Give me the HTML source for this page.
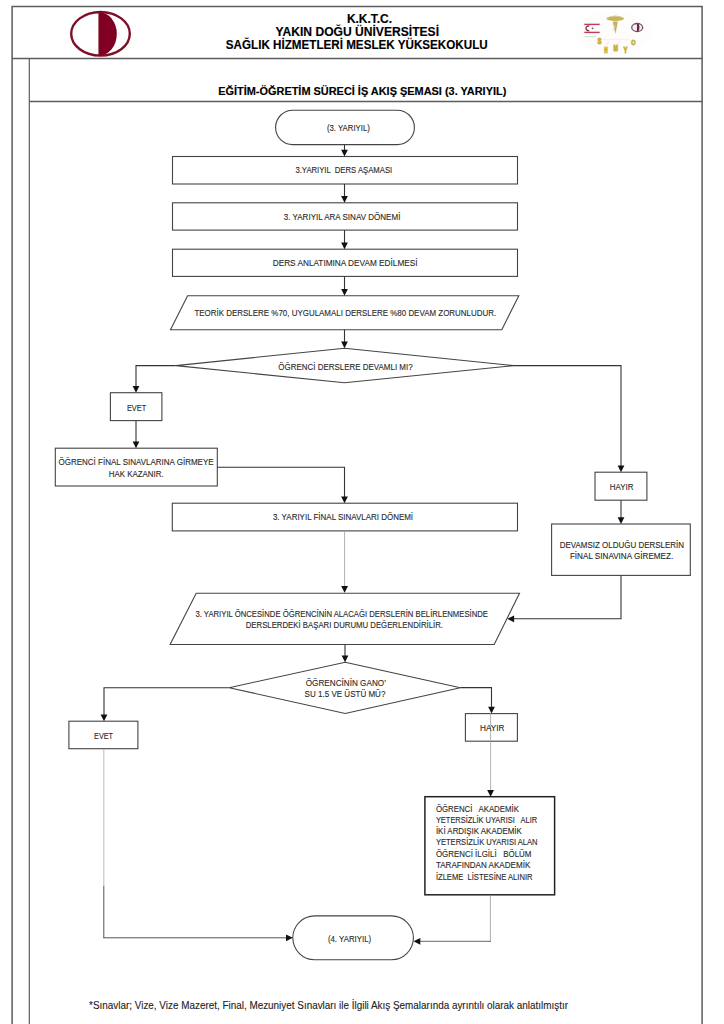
<!DOCTYPE html>
<html><head><meta charset="utf-8">
<style>
html,body{margin:0;padding:0;background:#fff;width:724px;height:1024px;overflow:hidden}
svg{display:block}
text{font-family:"Liberation Sans",sans-serif;fill:#2a2a2a;white-space:pre;stroke:#2a2a2a;stroke-width:0.12}
.b{font-weight:bold;fill:#000;stroke:#000;stroke-width:0.15}
.s{fill:none;stroke:#444;stroke-width:1.1}
.g{fill:none;stroke:#707070;stroke-width:0.9}
.k{fill:none;stroke:#333;stroke-width:1.1}
.h{fill:#111}
</style></head>
<body>
<svg width="724" height="1024" viewBox="0 0 724 1024">
<!-- page frame -->
<g fill="none" stroke="#5c5c5c" stroke-width="1.5">
<path d="M12.1 1024V6.6H702.1V1024"/>
<path d="M12.1 58.4H702.1"/>
<path d="M29.3 58.4V1024" stroke-width="1.2"/>
<path d="M29.3 101.5H702.1" stroke-width="1.3"/>
</g>
<!-- left logo -->
<g>
<ellipse cx="100.5" cy="33.8" rx="29.3" ry="21.8" fill="none" stroke="#7d0f26" stroke-width="2.4"/>
<path d="M99 12.2A17.8 21.7 0 0 1 99 55.6Z" fill="#7f0022"/>
<path d="M99 12V56" stroke="#7d0f26" stroke-width="1.2"/>
</g>
<!-- right logo -->
<g>
<ellipse cx="613.5" cy="33" rx="38" ry="21.5" fill="#fefdfb"/>
<rect x="584.3" y="23.7" width="15.4" height="1.4" fill="#c23a58"/>
<rect x="584.3" y="31.7" width="15.4" height="1.4" fill="#c23a58"/>
<path d="M589.2 26.1A2.5 2.3 0 1 0 589.2 30.5" fill="none" stroke="#7a3040" stroke-width="1.3"/>
<circle cx="592.6" cy="28.3" r="0.9" fill="#6a4a4a"/>
<path d="M584.5 36.5H596" stroke="#c8dcd0" stroke-width="0.8"/>
<ellipse cx="615.2" cy="18.6" rx="8.8" ry="2.4" fill="#c4b45a"/>
<path d="M609 17.2Q615.2 14.5 621.5 17.2" fill="none" stroke="#d2c88e" stroke-width="0.8"/>
<path d="M612.7 21.5H617.9L615.4 34Z" fill="#bfb070"/>
<path d="M611.5 24Q618.5 25.5 613 28.5Q611 30.5 617 32" fill="none" stroke="#e2dab8" stroke-width="0.6"/>
<ellipse cx="637.2" cy="27.5" rx="5.5" ry="4" fill="#fbe8f0" stroke="#6a5868" stroke-width="1.3"/>
<path d="M637 23.6A2.4 3.9 0 0 1 637 31.4Z" fill="#6e2040"/>
<g font-family="Liberation Sans" font-weight="bold">
<text x="597.6" y="44.3" font-size="8.4" textLength="3.9" lengthAdjust="spacingAndGlyphs" style="fill:#b39c2a;stroke:#c9b23a;stroke-width:0.9">S</text>
<text x="631.3" y="45.2" font-size="8" textLength="4.2" lengthAdjust="spacingAndGlyphs" style="fill:#b39c2a;stroke:#c9b23a;stroke-width:0.9">O</text>
<text x="604.3" y="52.5" font-size="8.4" textLength="3.3" lengthAdjust="spacingAndGlyphs" style="fill:#b39c2a;stroke:#c9b23a;stroke-width:0.9">H</text>
<text x="613.6" y="50.6" font-size="8.4" textLength="4.4" lengthAdjust="spacingAndGlyphs" style="fill:#b39c2a;stroke:#c9b23a;stroke-width:0.9">M</text>
<text x="623.6" y="52.5" font-size="8.4" textLength="3.9" lengthAdjust="spacingAndGlyphs" style="fill:#b39c2a;stroke:#c9b23a;stroke-width:0.9">Y</text>
</g>
<path d="M601 41Q604 38 607 40Q610 38 613 39.5Q616 38 619 40Q622 38 625 40Q628 38.5 631 41" fill="none" stroke="#eeead0" stroke-width="0.7"/>
<path d="M606 45L609 41M617 45L620 41" stroke="#efd4cc" stroke-width="0.6"/>
</g>
<!-- header text -->
<text class="b" x="346.9" y="22.5" font-size="12.7" textLength="45.2" lengthAdjust="spacingAndGlyphs">K.K.T.C.</text>
<text class="b" x="275.6" y="35.9" font-size="12.7" textLength="163.4" lengthAdjust="spacingAndGlyphs">YAKIN DOĞU ÜNİVERSİTESİ</text>
<text class="b" x="225.8" y="49" font-size="12.7" textLength="261.9" lengthAdjust="spacingAndGlyphs">SAĞLIK HİZMETLERİ MESLEK YÜKSEKOKULU</text>
<text class="b" x="218.2" y="95.2" font-size="11.1" textLength="288.1" lengthAdjust="spacingAndGlyphs">EĞİTİM-ÖĞRETİM SÜRECİ İŞ AKIŞ ŞEMASI (3. YARIYIL)</text>

<!-- shapes -->
<g class="s">
<rect x="275.6" y="110.2" width="138.8" height="34.4" rx="17.2"/>
<rect x="172.5" y="156.5" width="345" height="27.5"/>
<rect x="172.5" y="202.8" width="345" height="27.3"/>
<rect x="172.5" y="249.2" width="345" height="27.2"/>
<path d="M187.6 295.7H518.8L501.8 329.7H170.5Z"/>
<path d="M344.5 348.2L514 365.6L344.5 382.8L175.8 365.6Z"/>
<rect x="110.4" y="392.7" width="51.5" height="27.9"/>
<rect x="55.3" y="448.2" width="162" height="37.8"/>
<rect x="172.3" y="503.2" width="345.2" height="27.7"/>
<rect x="595" y="472.2" width="51.9" height="28"/>
<rect x="551.6" y="524" width="138.7" height="51.4"/>
<path d="M196.2 593.2H519.5L494.2 644.5H170.1Z"/>
<path d="M345.2 662.2L460.3 687.7L345.2 713.5L229.2 687.7Z"/>
<rect x="68.9" y="721.2" width="69" height="27.5"/>
<rect x="465.4" y="713.6" width="52" height="27.6"/>
<rect x="292.8" y="915.9" width="120.6" height="43.8" rx="21.9"/>
</g>
<rect x="424.9" y="796.7" width="129.7" height="98.1" fill="none" stroke="#222" stroke-width="1.5"/>

<!-- connectors -->
<g class="k">
<path d="M344.5 144.8V150"/>
<path d="M344.5 184V197"/>
<path d="M344.5 230.1V243"/>
<path d="M344.5 276.4V290"/>
<path d="M344.5 329.7V342"/>
<path d="M175.8 365.6H136V387"/>
<path d="M136 420.6V442"/>
<path d="M217.3 467.2H344.5V497"/>
<path d="M514 365.6H621V466"/>
<path d="M621 500.2V518"/>
<path d="M621 575.4V618.8H513"/>
<path d="M345 644.5V656"/>
<path d="M229.2 687.7H104V715"/>
<path d="M460.3 687.6H491.5V707"/>
</g>
<g fill="none">
<path d="M344.6 530.9V587" stroke="#9a9a9a" stroke-width="0.8"/>
<path d="M103.8 748.7V886" stroke="#a8a8a8" stroke-width="0.8"/><path d="M103.8 886V938" stroke="#555" stroke-width="1"/>
<path d="M103.3 937.8H287" stroke="#555" stroke-width="1"/>
<path d="M490.6 713.2V791" stroke="#a0a0a0" stroke-width="0.8"/>
<path d="M490.4 895.4V941.7" stroke="#999" stroke-width="0.8"/>
<path d="M490.8 941.3H420" stroke="#666" stroke-width="1"/>
</g>
<!-- arrowheads -->
<g class="h">
<path d="M341.1 149.7H347.9L344.5 156.5Z"/>
<path d="M341.1 196.0H347.9L344.5 202.8Z"/>
<path d="M341.1 242.4H347.9L344.5 249.2Z"/>
<path d="M341.1 288.9H347.9L344.5 295.7Z"/>
<path d="M341.1 341.4H347.9L344.5 348.2Z"/>
<path d="M132.6 385.9H139.4L136.0 392.7Z"/>
<path d="M132.6 441.4H139.4L136.0 448.2Z"/>
<path d="M341.1 496.4H347.9L344.5 503.2Z"/>
<path d="M341.2 586.0H348.0L344.6 592.8Z"/>
<path d="M617.6 465.4H624.4L621.0 472.2Z"/>
<path d="M617.6 517.2H624.4L621.0 524.0Z"/>
<path d="M514.1 615.4V622.2L507.3 618.8Z"/>
<path d="M341.6 655.4H348.4L345.0 662.2Z"/>
<path d="M100.6 714.4H107.4L104.0 721.2Z"/>
<path d="M488.1 706.8H494.9L491.5 713.6Z"/>
<path d="M487.2 789.9H494.0L490.6 796.7Z"/>
<path d="M286 934.4V941.2L292.8 937.8Z"/>
<path d="M420.3 937.9V944.7L413.5 941.3Z"/>
</g>

<!-- box texts -->
<g font-size="8.8" transform="translate(0 0.3)">
<text x="326.9" y="130.5" textLength="43" lengthAdjust="spacingAndGlyphs">(3. YARIYIL)</text>
<text x="295.4" y="173.2" textLength="96.8" lengthAdjust="spacingAndGlyphs">3.YARIYIL  DERS AŞAMASI</text>
<text x="283.7" y="219.6" textLength="116.7" lengthAdjust="spacingAndGlyphs">3. YARIYIL ARA SINAV DÖNEMİ</text>
<text x="272.7" y="266" textLength="144.9" lengthAdjust="spacingAndGlyphs">DERS ANLATIMINA DEVAM EDİLMESİ</text>
<text x="194.4" y="316.1" textLength="301.8" lengthAdjust="spacingAndGlyphs">TEORİK DERSLERE %70, UYGULAMALI DERSLERE %80 DEVAM ZORUNLUDUR.</text>
<text x="278.3" y="369.3" textLength="134.3" lengthAdjust="spacingAndGlyphs">ÖĞRENCİ DERSLERE DEVAMLI MI?</text>
<text x="126.9" y="410.3" textLength="19.3" lengthAdjust="spacingAndGlyphs">EVET</text>
<text x="58.5" y="464.8" textLength="155.1" lengthAdjust="spacingAndGlyphs">ÖĞRENCİ FİNAL SINAVLARINA GİRMEYE</text>
<text x="108.7" y="476.4" textLength="54.9" lengthAdjust="spacingAndGlyphs">HAK KAZANIR.</text>
<text x="272.9" y="520" textLength="140.2" lengthAdjust="spacingAndGlyphs">3. YARIYIL FİNAL SINAVLARI DÖNEMİ</text>
<text x="609.8" y="489.6" textLength="23.6" lengthAdjust="spacingAndGlyphs">HAYIR</text>
<text x="559.7" y="547.4" textLength="124.4" lengthAdjust="spacingAndGlyphs">DEVAMSIZ OLDUĞU DERSLERİN</text>
<text x="569.9" y="558.7" textLength="103.3" lengthAdjust="spacingAndGlyphs">FİNAL SINAVINA GİREMEZ.</text>
<text x="195.4" y="616.7" textLength="292.6" lengthAdjust="spacingAndGlyphs">3. YARIYIL ÖNCESİNDE ÖĞRENCİNİN ALACAĞI DERSLERİN BELİRLENMESİNDE</text>
<text x="245.7" y="627.4" textLength="197.3" lengthAdjust="spacingAndGlyphs">DERSLERDEKİ BAŞARI DURUMU DEĞERLENDİRİLİR.</text>
<text x="305.7" y="685.4" textLength="80.3" lengthAdjust="spacingAndGlyphs">ÖĞRENCİNİN GANO’</text>
<text x="304.6" y="697" textLength="80.8" lengthAdjust="spacingAndGlyphs">SU 1.5 VE ÜSTÜ MÜ?</text>
<text x="94.1" y="738.7" textLength="18.9" lengthAdjust="spacingAndGlyphs">EVET</text>
<text x="480" y="731.1" textLength="24.4" lengthAdjust="spacingAndGlyphs">HAYIR</text>
<text x="327.9" y="941.5" textLength="43.3" lengthAdjust="spacingAndGlyphs">(4. YARIYIL)</text>
</g>
<g font-size="8.6" style="fill:#1a1a1a">
<text x="435.9" y="811.7" textLength="83" lengthAdjust="spacingAndGlyphs">ÖĞRENCİ   AKADEMİK</text>
<text x="435.9" y="822.8" textLength="101.3" lengthAdjust="spacingAndGlyphs">YETERSİZLİK UYARISI   ALIR</text>
<text x="435.9" y="834" textLength="85.9" lengthAdjust="spacingAndGlyphs">İKİ ARDIŞIK AKADEMİK</text>
<text x="435.9" y="845.3" textLength="101.6" lengthAdjust="spacingAndGlyphs">YETERSİZLİK UYARISI ALAN</text>
<text x="435.9" y="856.8" textLength="95.5" lengthAdjust="spacingAndGlyphs">ÖĞRENCİ İLGİLİ   BÖLÜM</text>
<text x="435.9" y="868.2" textLength="94.4" lengthAdjust="spacingAndGlyphs">TARAFINDAN AKADEMİK</text>
<text x="435.9" y="879.5" textLength="96.6" lengthAdjust="spacingAndGlyphs">İZLEME  LİSTESİNE ALINIR</text>
</g>
<text x="89.1" y="1008.7" font-size="10.2" textLength="478.9" lengthAdjust="spacingAndGlyphs" style="fill:#222;stroke:#222;stroke-width:0.1">*Sınavlar; Vize, Vize Mazeret, Final, Mezuniyet Sınavları ile İlgili Akış Şemalarında ayrıntılı olarak anlatılmıştır</text>
</svg>
</body></html>
